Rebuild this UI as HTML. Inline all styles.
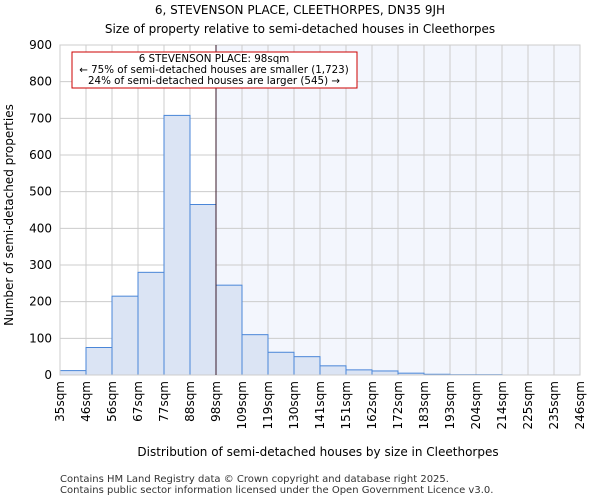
<!DOCTYPE html>
<html><head><meta charset="utf-8"><style>
body{margin:0;background:#fff;font-family:"DejaVu Sans","Liberation Sans",sans-serif;}
</style></head><body>
<svg id="c" width="600" height="500" xmlns="http://www.w3.org/2000/svg" font-family="DejaVu Sans, Liberation Sans, sans-serif">
<text x="300" y="14" text-anchor="middle" font-size="12">6, STEVENSON PLACE, CLEETHORPES, DN35 9JH</text>
<text x="300" y="33" text-anchor="middle" font-size="12">Size of property relative to semi-detached houses in Cleethorpes</text>
<g id="plot"></g>
<text x="318" y="456" text-anchor="middle" font-size="12">Distribution of semi-detached houses by size in Cleethorpes</text>
<text transform="translate(13,215) rotate(-90)" text-anchor="middle" font-size="12">Number of semi-detached properties</text>
<text x="60" y="482" font-size="10" fill="#333">Contains HM Land Registry data © Crown copyright and database right 2025.</text>
<text x="60" y="493" font-size="10" fill="#333">Contains public sector information licensed under the Open Government Licence v3.0.</text>
</svg>
<script>
const categories=["35sqm","46sqm","56sqm","67sqm","77sqm","88sqm","98sqm","109sqm","119sqm","130sqm","141sqm","151sqm","162sqm","172sqm","183sqm","193sqm","204sqm","214sqm","225sqm","235sqm","246sqm"];
const counts=[12,75,215,280,708,465,245,110,62,50,25,14,11,5,2,1,1,0,0,0];
const yTicks=[0,100,200,300,400,500,600,700,800,900];
const markerIndex=6;
const NS="http://www.w3.org/2000/svg";
const g=document.getElementById('plot');
const L=60,R=580,T=45,B=375,yMax=900;
const bw=(R-L)/counts.length;
const x=i=>L+i*bw;
const y=v=>B-v/yMax*(B-T);
function mk(t,a){const e=document.createElementNS(NS,t);for(const k in a)e.setAttribute(k,a[k]);g.appendChild(e);return e;}
let e;
e=mk('rect',{x:x(markerIndex),y:T,width:R-x(markerIndex),height:B-T,fill:'#f3f6fd'});


for(let i=0;i<=counts.length;i++){e=mk('line',{x1:x(i),x2:x(i),y1:T,y2:B,stroke:'#cccccc'});

}
yTicks.forEach(v=>{e=mk('line',{x1:L,x2:R,y1:y(v),y2:y(v),stroke:'#cccccc'});


e=mk('text',{x:L-8,y:y(v)+4,'text-anchor':'end','font-size':'12'});e.textContent=v;

});
counts.forEach((v,i)=>{if(v<=0)return;e=mk('rect',{x:x(i),y:y(v),width:bw,height:B-y(v),fill:'#dbe4f4',stroke:'#4a86d8','stroke-width':1});

});
categories.forEach((c,i)=>{e=mk('text',{transform:`translate(${x(i)+4},${B+6}) rotate(-90)`,'text-anchor':'end','font-size':'12'});e.textContent=c;

});
e=mk('rect',{x:L,y:T,width:R-L,height:B-T,fill:'none',stroke:'#cccccc'});


e=mk('line',{x1:x(markerIndex),x2:x(markerIndex),y1:T,y2:B,stroke:'#3a1a2a','stroke-width':1});


e=mk('rect',{x:72,y:52,width:285,height:36,fill:'#fff',stroke:'#cc0000','stroke-width':1});


[["6 STEVENSON PLACE: 98sqm",62],["← 75% of semi-detached houses are smaller (1,723)",73],["24% of semi-detached houses are larger (545) →",84]].forEach((t,k)=>{e=mk('text',{x:214,y:t[1],'text-anchor':'middle','font-size':'10.3'});e.textContent=t[0];

});
</script>
</body></html>
